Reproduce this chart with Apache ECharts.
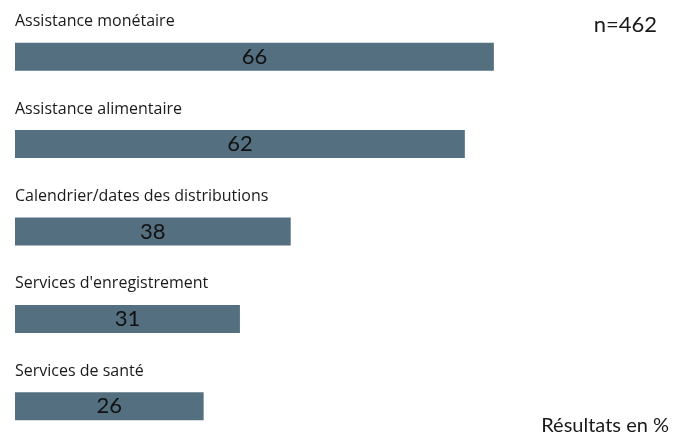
<!DOCTYPE html>
<html>
<head>
<meta charset="utf-8">
<script src="https://cdn.jsdelivr.net/npm/echarts@6/dist/echarts.min.js"></script>
<style>
  html, body { margin: 0; padding: 0; background: #ffffff; }
  #chart { width: 688px; height: 437px; }
</style>
</head>
<body>
<div id="chart"></div>
<script>
// Response categories, top to bottom
const categories = [
  'Assistance monétaire',
  'Assistance alimentaire',
  'Calendrier/dates des distributions',
  "Services d'enregistrement",
  'Services de santé'
];
// Share of respondents, in %
const values = [66, 62, 38, 31, 26];
const sampleNote = 'n=462';
const unitNote = 'Résultats en %';

const FONT = 'Lato, "Open Sans", sans-serif';
const NAME_FONT = '"Open Sans", Lato, sans-serif';
const chart = echarts.init(document.getElementById('chart'), null, { renderer: 'canvas' });

chart.setOption({
  animation: false,
  backgroundColor: '#ffffff',
  grid: {
    left: 15, top: 13, width: 653, height: 437,
    containLabel: false,
    outerBoundsMode: 'none'
  },
  xAxis: { type: 'value', min: 0, max: 90, show: false },
  yAxis: {
    type: 'category',
    data: categories,
    inverse: true,
    show: false
  },
  series: [
    {
      type: 'bar',
      data: values,
      barWidth: 28,
      itemStyle: { color: '#546f7f' },
      label: {
        show: true,
        position: 'inside',
        color: '#111111',
        fontFamily: FONT,
        fontSize: 22
      }
    },
    {
      // category names, written above each bar
      type: 'bar',
      data: values,
      barWidth: 28,
      barGap: '-100%',
      silent: true,
      itemStyle: { color: 'rgba(0,0,0,0)' },
      label: {
        show: true,
        position: 'insideLeft',
        distance: 0,
        offset: [0, -35],
        formatter: '{b}',
        color: '#1a1a1a',
        fontFamily: NAME_FONT,
        fontSize: 16
      }
    }
  ],
  graphic: [
    {
      type: 'text', right: 31, top: 14,
      style: { text: sampleNote, fill: '#1a1a1a', font: '22px ' + FONT }
    },
    {
      type: 'text', right: 19, top: 416,
      style: { text: unitNote, fill: '#1a1a1a', font: '20px ' + FONT }
    }
  ]
});
</script>
</body>
</html>
